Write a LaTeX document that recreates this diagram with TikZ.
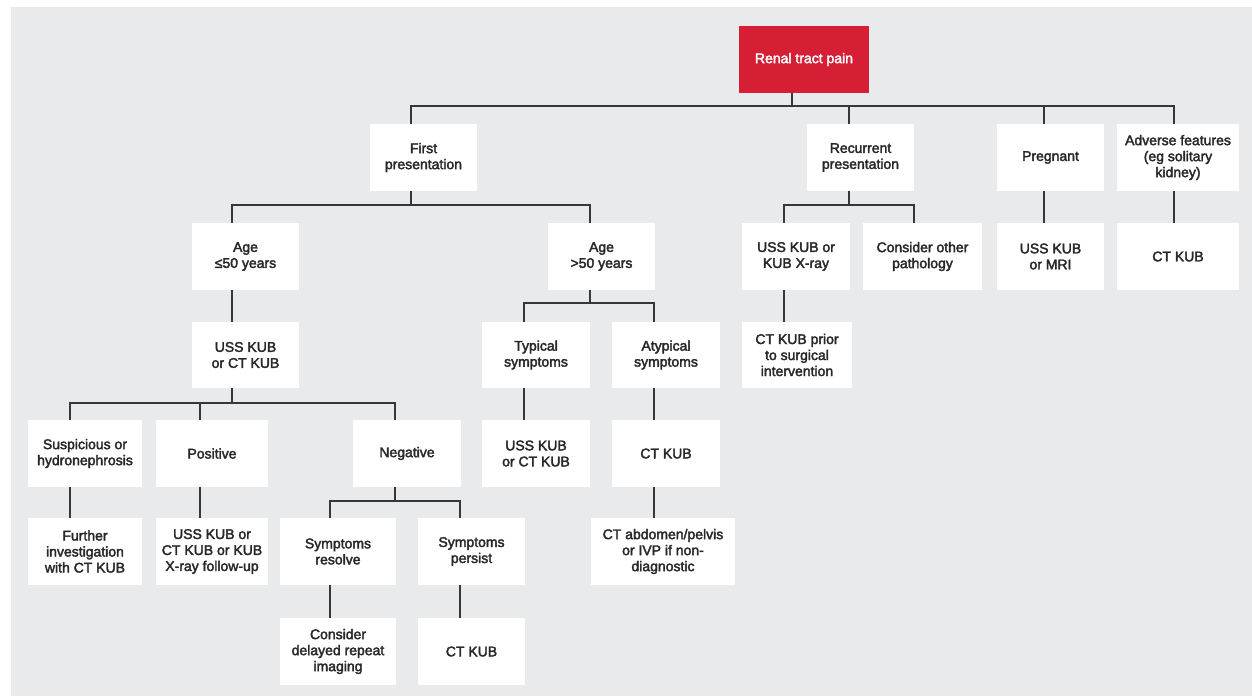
\documentclass[tikz,border=0pt]{standalone}
\usepackage{fontspec}
\newfontfamily\boxfont{Liberation Sans}[FakeBold=2.5]
\definecolor{bg}{RGB}{233,234,236}
\definecolor{rtp}{RGB}{214,30,52}
\definecolor{ink}{RGB}{40,40,40}
\definecolor{lncol}{RGB}{55,55,55}
\tikzset{
  box/.style={fill=white, inner sep=0pt, align=center, text=ink,
    font=\boxfont\fontsize{14}{16}\selectfont, minimum height=67pt},
  ln/.style={draw=lncol, line width=1.7pt},
  stem/.style={draw=lncol, line width=2.4pt}
}
\begin{document}
\begin{tikzpicture}[x=1pt,y=-1pt]
\useasboundingbox (0,0) rectangle (1252,696);
\fill[white] (0,0) rectangle (1252,696);
\fill[bg] (11,7) rectangle (1252,696);

% row 0
\node[box, minimum width=130pt, fill=rtp, text=white] (red) at (804,59.5) {Renal tract pain};
% row 1
\node[box, minimum width=107pt] (first) at (423.5,157.5) {First\\presentation};
\node[box, minimum width=107pt] (recur) at (860.5,157.5) {Recurrent\\presentation};
\node[box, minimum width=107pt] (preg) at (1050.5,157.5) {Pregnant};
\node[box, minimum width=122pt] (adv) at (1178,157.5) {Adverse features\\(eg solitary\\kidney)};
% row 2
\node[box, minimum width=107pt] (age1) at (245.5,256.5) {Age\\≤50 years};
\node[box, minimum width=107pt] (age2) at (601.5,256.5) {Age\\>50 years};
\node[box, minimum width=108pt] (ussx) at (796,256.5) {USS KUB or\\KUB X-ray};
\node[box, minimum width=119pt] (other) at (922.5,256.5) {Consider other\\pathology};
\node[box, minimum width=107pt] (mri) at (1050.5,256.5) {USS KUB\\or MRI};
\node[box, minimum width=122pt] (ctadv) at (1178,256.5) {CT KUB};
% row 3
\node[box, minimum width=107pt, minimum height=66pt] (uss1) at (245.5,355) {USS KUB\\or CT KUB};
\node[box, minimum width=108pt, minimum height=66pt] (typ) at (536,355) {Typical\\symptoms};
\node[box, minimum width=108pt, minimum height=66pt] (atyp) at (666,355) {Atypical\\symptoms};
\node[box, minimum width=110pt, minimum height=66pt] (ctprior) at (797,355) {CT KUB prior\\to surgical\\intervention};
% row 4
\node[box, minimum width=114pt] (susp) at (85,453.5) {Suspicious or\\hydronephrosis};
\node[box, minimum width=112pt] (pos) at (212,453.5) {Positive};
\node[box, minimum width=108pt] (neg) at (407,453.5) {Negative};
\node[box, minimum width=108pt] (uss2) at (536,453.5) {USS KUB\\or CT KUB};
\node[box, minimum width=108pt] (ctatyp) at (666,453.5) {CT KUB};
% row 5
\node[box, minimum width=114pt] (further) at (85,551.5) {Further\\investigation\\with CT KUB};
\node[box, minimum width=112pt] (follow) at (212,551.5) {USS KUB or\\CT KUB or KUB\\X-ray follow-up};
\node[box, minimum width=116pt] (resolve) at (338,551.5) {Symptoms\\resolve};
\node[box, minimum width=107pt] (persist) at (471.5,551.5) {Symptoms\\persist};
\node[box, minimum width=144pt] (ctabd) at (663,551.5) {CT abdomen/pelvis\\or IVP if non-\\diagnostic};
% row 6
\node[box, minimum width=116pt] (delayed) at (338,651.5) {Consider\\delayed repeat\\imaging};
\node[box, minimum width=107pt] (ctfinal) at (471.5,651.5) {CT KUB};

% connectors
\draw[stem] ([xshift=-12pt]red.south) -- ++(0,13) coordinate (j0);
\draw[ln] (j0) -| ([xshift=-12.5pt]first.north);
\draw[ln] (j0) -| ([xshift=-11.5pt]recur.north);
\draw[ln] (j0) -| ([xshift=-6.5pt]preg.north);
\draw[ln] (j0) -| ([xshift=-4pt]adv.north);

\draw[stem] ([xshift=-12.5pt]first.south) -- ++(0,14) coordinate (j1);
\draw[ln] (j1) -| ([xshift=-13.5pt]age1.north);
\draw[ln] (j1) -| ([xshift=-11.5pt]age2.north);

\draw[stem] ([xshift=-11.5pt]recur.south) -- ++(0,14) coordinate (j2);
\draw[ln] (j2) -| ([xshift=-12pt]ussx.north);
\draw[ln] (j2) -| ([xshift=-8.5pt]other.north);

\draw[ln] ([xshift=-6.5pt]preg.south) -- ([xshift=-6.5pt]mri.north);
\draw[ln] ([xshift=-4pt]adv.south) -- ([xshift=-4pt]ctadv.north);

\draw[ln] ([xshift=-13.5pt]age1.south) -- ([xshift=-13.5pt]uss1.north);

\draw[stem] ([xshift=-11.5pt]age2.south) -- ++(0,13) coordinate (j3);
\draw[ln] (j3) -| ([xshift=-12pt]typ.north);
\draw[ln] (j3) -| ([xshift=-12pt]atyp.north);

\draw[ln] ([xshift=-12pt]ussx.south) -- ([xshift=-12pt]ussx.south |- ctprior.north);

\draw[stem] ([xshift=-13.5pt]uss1.south) -- ++(0,15) coordinate (j4);
\draw[ln] (j4) -| ([xshift=-15pt]susp.north);
\draw[ln] (j4) -| ([xshift=-12pt]pos.north);
\draw[ln] (j4) -| ([xshift=-12pt]neg.north);

\draw[ln] ([xshift=-12pt]typ.south) -- ([xshift=-12pt]uss2.north);
\draw[ln] ([xshift=-12pt]atyp.south) -- ([xshift=-12pt]ctatyp.north);
\draw[ln] ([xshift=-12pt]ctatyp.south) -- ([xshift=-12pt]ctatyp.south |- ctabd.north);

\draw[ln] ([xshift=-15pt]susp.south) -- ([xshift=-15pt]further.north);
\draw[ln] ([xshift=-12pt]pos.south) -- ([xshift=-12pt]follow.north);

\draw[stem] ([xshift=-12pt]neg.south) -- ++(0,14) coordinate (j5);
\draw[ln] (j5) -| ([xshift=-8pt]resolve.north);
\draw[ln] (j5) -| ([xshift=-11.5pt]persist.north);

\draw[ln] ([xshift=-8pt]resolve.south) -- ([xshift=-8pt]delayed.north);
\draw[ln] ([xshift=-11.5pt]persist.south) -- ([xshift=-11.5pt]ctfinal.north);
\end{tikzpicture}
\end{document}
